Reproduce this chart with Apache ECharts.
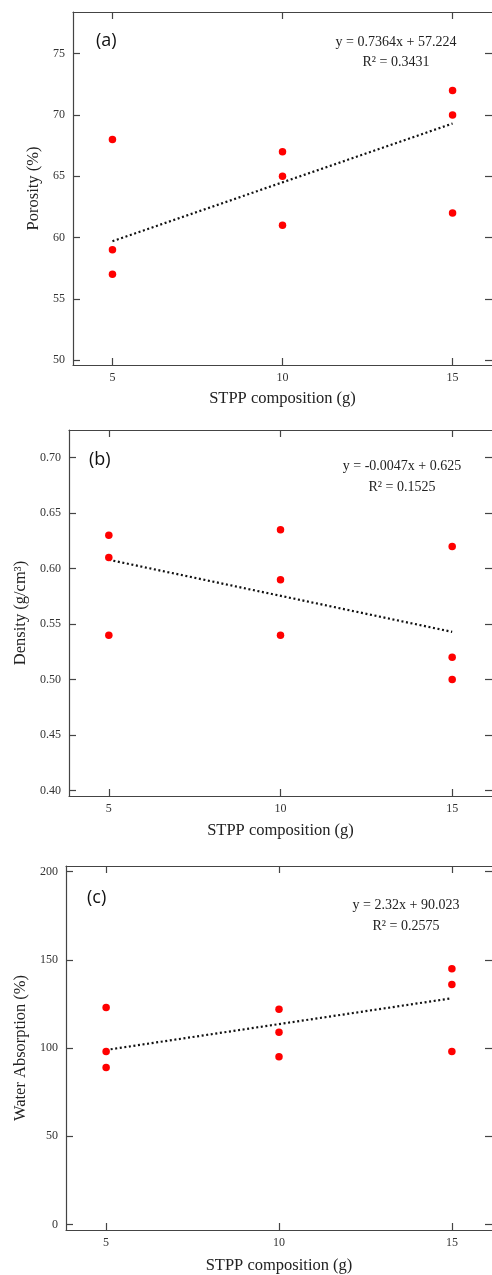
<!DOCTYPE html>
<html>
<head>
<meta charset="utf-8">
<script src="https://cdn.jsdelivr.net/npm/echarts@6/dist/echarts.min.js"></script>
<style>
  html, body { margin: 0; padding: 0; background: #fff; }
  #chart { width: 492px; height: 1275px; }
</style>
</head>
<body>
<div id="chart"></div>
<script>
// STPP amount (g) for each sample, and the x ticks
const stpp = [5, 5, 5, 10, 10, 10, 15, 15, 15];
const xTicks = [5, 10, 15];
const trendX = [5, 15];

// (a) porosity
const porosity = [68, 59, 57, 67, 65, 61, 72, 70, 62];
const porosityTrend = [59.7, 69.3];
const porosityTicks = [50, 55, 60, 65, 70, 75];

// (b) density
const density = [0.63, 0.61, 0.54, 0.635, 0.59, 0.54, 0.62, 0.52, 0.5];
const densityTrend = [0.608, 0.543];
const densityTicks = [0.4, 0.45, 0.5, 0.55, 0.6, 0.65, 0.7];

// (c) water absorption
const absorption = [123, 98, 89, 122, 109, 95, 145, 136, 98];
const absorptionTrend = [98.9, 128.2];
const absorptionTicks = [0, 50, 100, 150, 200];

const serif = "'Liberation Serif', 'DejaVu Serif', serif";
const frame = "#444";

const panels = [
  {
    letter: "(a)", eq: "y = 0.7364x + 57.224", r2: "R² = 0.3431",
    y: porosity, trend: porosityTrend, ticks: porosityTicks,
    ymin: 49.6, ymax: 78.4, yname: "Porosity (%)", digits: 0,
    grid: { left: 73, top: 12, width: 421, height: 353 },
    ynameGap: 28, xnameGap: 25,
    letterPos: [96, 44], eqPos: [396, 42, 62],
  },
  {
    letter: "(b)", eq: "y = -0.0047x + 0.625", r2: "R² = 0.1525",
    y: density, trend: densityTrend, ticks: densityTicks,
    ymin: 0.395, ymax: 0.725, yname: "Density (g/cm³)", digits: 2,
    grid: { left: 69, top: 430, width: 425, height: 366 },
    ynameGap: 37, xnameGap: 26,
    letterPos: [89, 463], eqPos: [402, 466, 487],
  },
  {
    letter: "(c)", eq: "y = 2.32x + 90.023", r2: "R² = 0.2575",
    y: absorption, trend: absorptionTrend, ticks: absorptionTicks,
    ymin: -3.2, ymax: 203.2, yname: "Water Absorption (%)", digits: 0,
    grid: { left: 66, top: 866, width: 427, height: 364 },
    ynameGap: 36, xnameGap: 27,
    letterPos: [87, 901], eqPos: [406, 905, 926],
  },
];

const grids = [];
const xAxes = [];
const yAxes = [];
const series = [];
const graphics = [];

const tickStyle = (vals) => ({
  show: true, inside: true, length: 7, customValues: vals,
  lineStyle: { color: frame, width: 1.2 },
});
const lineStyle = { show: true, onZero: false, lineStyle: { color: frame, width: 1.2 } };

panels.forEach((p, i) => {
  grids.push(p.grid);

  xAxes.push({
    gridIndex: i, type: "value", position: "bottom", min: 3.84, max: 16.16,
    axisLine: lineStyle, axisTick: tickStyle(xTicks), splitLine: { show: false },
    axisLabel: {
      customValues: xTicks, margin: 7, color: "#333",
      fontFamily: serif, fontSize: 12,
    },
    name: "STPP composition (g)", nameLocation: "middle", nameGap: p.xnameGap,
    nameTextStyle: { fontFamily: serif, fontSize: 16.5, color: "#222" },
  });
  xAxes.push({
    gridIndex: i, type: "value", position: "top", min: 3.84, max: 16.16,
    axisLine: lineStyle, axisTick: tickStyle(xTicks), splitLine: { show: false },
    axisLabel: { show: false },
  });

  yAxes.push({
    gridIndex: i, type: "value", position: "left", min: p.ymin, max: p.ymax,
    axisLine: lineStyle, axisTick: tickStyle(p.ticks), splitLine: { show: false },
    axisLabel: {
      customValues: p.ticks, margin: 8, color: "#333",
      fontFamily: serif, fontSize: 12,
      formatter: (v) => v.toFixed(p.digits),
    },
    name: p.yname, nameLocation: "middle", nameGap: p.ynameGap,
    nameTextStyle: { fontFamily: serif, fontSize: 16.5, color: "#222" },
  });
  // right side: the frame line falls just off the page, only ticks show
  yAxes.push({
    gridIndex: i, type: "value", position: "right", min: p.ymin, max: p.ymax,
    axisLine: { show: false }, axisTick: tickStyle(p.ticks), splitLine: { show: false },
    axisLabel: { show: false },
  });

  series.push({
    type: "line", xAxisIndex: 2 * i, yAxisIndex: 2 * i,
    data: trendX.map((x, k) => [x, p.trend[k]]),
    symbol: "none", silent: true,
    lineStyle: { color: "#111", width: 2.2, type: [2, 2.6] },
    z: 2,
  });
  series.push({
    type: "scatter", xAxisIndex: 2 * i, yAxisIndex: 2 * i,
    data: stpp.map((x, k) => [x, p.y[k]]),
    symbolSize: 7.5, itemStyle: { color: "#ff0000", opacity: 1 },
    z: 3,
  });

  graphics.push({
    type: "text", left: p.letterPos[0], top: p.letterPos[1] - 12,
    style: { text: p.letter, font: "18px 'Open Sans', sans-serif", fill: "#111" },
  });
  graphics.push({
    type: "text", x: p.eqPos[0], y: p.eqPos[1],
    style: {
      text: p.eq, font: "14px " + serif, fill: "#222",
      textAlign: "center", textVerticalAlign: "middle",
    },
  });
  graphics.push({
    type: "text", x: p.eqPos[0], y: p.eqPos[2],
    style: {
      text: p.r2, font: "14px " + serif, fill: "#222",
      textAlign: "center", textVerticalAlign: "middle",
    },
  });
});

const chart = echarts.init(document.getElementById("chart"));
chart.setOption({
  animation: false,
  grid: grids,
  xAxis: xAxes,
  yAxis: yAxes,
  series: series,
  graphic: graphics,
});
</script>
</body>
</html>
